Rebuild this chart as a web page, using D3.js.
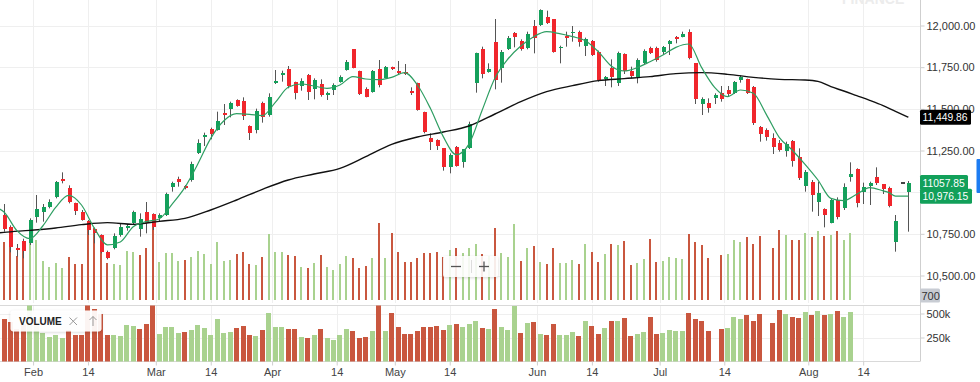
<!DOCTYPE html>
<html><head><meta charset="utf-8">
<script src="https://cdn.jsdelivr.net/npm/d3@7"></script>
<style>
body{margin:0;background:#fff;}
svg{display:block;font-family:"Liberation Sans",Arial,Helvetica,sans-serif;}
</style>
</head><body>
<svg id="c" width="980" height="382"></svg>
<script>
// ---------- DATA ----------
const open = [10863,10793,10663,10709,10693,10849,10881,10913,10969,11077,
11023,10933,10883,10827,10781,10743,10639,10663,10743,10783,
10817,10777,10881,10867,10843,10863,11029,11077,11039,11073,
11233,11329,11381,11373,11473,11499,11553,11547,11397,11373,
11533,11463,11657,11701,11737,11659,11637,11703,11617,11649,
11585,11613,11663,11733,11857,11729,11617,11603,11737,11687,
11749,11727,11721,11607,11653,11479,11323,11313,11263,11153,
11273,11183,11263,11653,11859,11723,11899,11743,11857,11957,
11907,11863,11999,12003,12049,12037,11863,11937,11953,11963,
11877,11909,11843,11679,11743,11653,11829,11727,11693,11773,
11863,11863,11839,11889,11929,11933,11963,11773,11529,11537,
11563,11597,11613,11597,11673,11677,11629,11393,11373,11323,
11293,11249,11309,11213,11037,11063,10943,10897,10817,10953,
10903,11089,11137,11003,11037,11093,11047,11023,10703,11059,11003];
const high = [10929,10801,10689,10721,10843,10983,10929,10957,11067,11119,
11041,10937,10893,10833,10787,10747,10649,10753,10809,10809,
10889,10873,10941,10873,10873,10997,11063,11093,11043,11183,
11317,11357,11387,11483,11529,11543,11557,11569,11401,11501,
11543,11593,11733,11729,11757,11663,11683,11709,11683,11677,
11603,11653,11701,11793,11859,11729,11629,11733,11793,11757,
11753,11787,11769,11629,11657,11483,11353,11317,11263,11233,
11277,11259,11423,11837,11873,11773,12039,11853,11937,11961,
11917,11963,12033,12097,12089,12039,11879,11963,11997,11969,
11927,11913,11849,11697,11797,11843,11833,11753,11803,11857,
11873,11873,11877,11913,11937,11963,11977,11773,11569,11563,
11593,11637,11637,11667,11701,11681,11637,11397,11383,11353,
11313,11303,11313,11263,11133,11073,11063,10903,10963,10969,
11053,11179,11143,11057,11063,11149,11049,11033,10863,11059,11067];
const low = [10763,10639,10613,10603,10683,10817,10823,10903,10963,11053,
10933,10863,10829,10743,10693,10633,10597,10657,10733,10769,
10809,10733,10753,10773,10823,10857,11003,11033,11017,11063,
11229,11277,11317,11369,11403,11449,11513,11433,11313,11353,
11417,11453,11649,11663,11623,11557,11609,11553,11557,11573,
11553,11583,11657,11729,11743,11583,11569,11597,11629,11683,
11733,11709,11703,11583,11489,11353,11253,11253,11129,11113,
11153,11147,11259,11597,11683,11717,11617,11657,11853,11869,
11849,11857,11833,11997,12009,11837,11773,11873,11903,11873,
11817,11817,11663,11637,11629,11637,11709,11683,11653,11763,
11829,11783,11823,11823,11893,11929,11797,11529,11463,11477,
11529,11543,11573,11589,11657,11589,11403,11303,11309,11229,
11243,11213,11153,11073,11003,10883,10857,10789,10813,10837,
10893,11063,10909,10929,10923,11043,10989,10909,10643,11059,10763];
const close = [10777,10673,10653,10649,10833,10897,10913,10941,11063,11065,
10943,10889,10833,10773,10753,10643,10603,10737,10789,10797,
10883,10839,10817,10793,10863,10989,11057,11061,11023,11169,
11297,11345,11349,11425,11463,11533,11519,11457,11357,11489,
11453,11573,11667,11713,11637,11597,11669,11603,11673,11583,
11597,11643,11693,11783,11743,11589,11573,11727,11643,11753,
11737,11717,11709,11593,11493,11359,11303,11279,11153,11223,
11157,11257,11409,11833,11709,11737,11673,11843,11927,11929,
11857,11947,11923,12093,12017,11843,11873,11923,11963,11903,
11917,11823,11673,11693,11689,11833,11727,11697,11793,11849,
11837,11793,11869,11909,11917,11947,11803,11559,11557,11503,
11583,11557,11587,11663,11689,11597,11413,11349,11333,11273,
11253,11287,11189,11083,11123,10983,10997,10863,10953,10853,
11033,11109,10933,11029,11053,11053,11017,10917,10829,11059,11057.85];
// volume in thousands (null = no bar)
const volume = [445,407,335,394,612,458,299,253,279,245,
330,271,271,599,548,497,279,271,265,376,
368,343,394,656,286,356,356,299,304,330,
376,353,271,440,299,304,348,368,273,265,
330,502,363,363,343,335,253,240,279,343,
250,227,271,335,322,245,258,317,587,317,
510,363,286,286,322,356,356,368,330,381,
394,360,394,427,353,335,548,356,330,579,
299,399,415,291,271,394,279,279,304,270,
427,368,286,348,426,422,448,262,282,309,
463,288,300,330,322,313,508,441,421,317,
null,340,350,460,443,480,425,492,null,396,
532,498,460,456,514,480,525,486,496,525,
460,514];
// moving averages: [candle index, value]
const maFast = [[-1,10905],[0,10881],[2,10769],[4,10721],[6,10797],[8,10909],[10,10981],[12,10923],[14,10783],[16,10684],[18,10701],[20,10793],[22,10823],[24,10839],[26,10927],[28,11029],[30,11169],[32,11323],[34,11427],[36,11471],[38,11467],[40,11459],[42,11539],[44,11629],[46,11649],[48,11637],[50,11623],[52,11643],[54,11693],[56,11679],[58,11675],[60,11689],[62,11717],[64,11643],[66,11503],[68,11333],[70,11225],[72,11290],[74,11490],[76,11685],[78,11799],[80,11877],[82,11933],[84,11963],[86,11951],[88,11933],[90,11909],[92,11843],[94,11757],[96,11727],[98,11747],[100,11783],[102,11823],[104,11869],[106,11889],[108,11747],[110,11629],[112,11573],[114,11613],[116,11593],[118,11467],[120,11329],[122,11253],[124,11167],[126,11073],[128,10963],[130,10949],[132,10987],[134,11027],[136,11009],[137,10997],[138,10976],[140,10976.15]];
const maSlow = [[-1,10755],[0,10759],[4,10771],[8,10785],[12,10805],[16,10817],[20,10807],[24,10825],[28,10843],[32,10893],[36,10953],[40,11017],[44,11073],[48,11109],[52,11143],[56,11213],[60,11287],[64,11331],[68,11361],[72,11397],[76,11469],[80,11543],[84,11603],[88,11639],[92,11669],[96,11681],[100,11693],[104,11711],[108,11717],[112,11707],[116,11689],[120,11677],[124,11673],[126,11665],[128,11633],[130,11607],[132,11579],[134,11551],[136,11521],[138,11485],[140,11449.86]];
const priceTicks = [10500,10750,11000,11250,11500,11750,12000];
const hiddenPriceLabels = [11000]; // covered by the value tags in the reference
const volTicks = [250,500];
const tickIdx = [4.5,13,23.5,32,41.5,51.5,60.5,69,82.5,91,101.5,111.5,124.5,133];
const tickLabels = ["Feb","14","Mar","14","Apr","14","May","14","Jun","14","Jul","14","Aug","14"];

// ---------- CHART ----------
const svg = d3.select('#c');
const AX = 920;
const C = {up:'#14a05b', dn:'#f0262c', vUp:'#a9d28f', vDn:'#c9573f', wick:'#555', grid:'#efefef', axis:'#cfcfcf', text:'#333'};
const x = d3.scaleLinear().domain([0,140]).range([4,908.4]);
const y = d3.scaleLinear().domain([10500,12000]).range([275.5,25.5]);
const vTop = d3.scaleLinear().domain([0,1000]).range([299.5,169.6]);
const vBot = d3.scaleLinear().domain([0,500]).range([361.5,313.5]);

const defs = svg.append('defs');
defs.append('clipPath').attr('id','cm').append('rect').attr('x',0).attr('y',0).attr('width',AX).attr('height',303);
defs.append('clipPath').attr('id','cl').append('rect').attr('x',0).attr('y',305.5).attr('width',AX).attr('height',56);
const f = defs.append('filter').attr('id','sh').attr('x','-20%').attr('y','-30%').attr('width','140%').attr('height','160%');
f.append('feDropShadow').attr('dx',0).attr('dy',1).attr('stdDeviation',1.5).attr('flood-color','#000').attr('flood-opacity',0.18);

// watermark (cut off by the top edge, as in the reference)
svg.append('text').attr('x',842).attr('y',4).attr('font-size',14).attr('font-weight','bold')
  .attr('fill','#ececec').text('FINANCE');

// grid
const g = svg.append('g');
g.selectAll('.hg').data(priceTicks).join('line')
  .attr('x1',0).attr('x2',AX).attr('y1',d=>Math.round(y(d))+0.5).attr('y2',d=>Math.round(y(d))+0.5)
  .attr('stroke',C.grid);
g.selectAll('.vg').data(tickIdx).join('line')
  .attr('x1',d=>Math.round(x(d))+0.5).attr('x2',d=>Math.round(x(d))+0.5).attr('y1',0).attr('y2',303)
  .attr('stroke',C.grid);
g.selectAll('.vg2').data(tickIdx).join('line')
  .attr('x1',d=>Math.round(x(d))+0.5).attr('x2',d=>Math.round(x(d))+0.5).attr('y1',305.5).attr('y2',361.5)
  .attr('stroke',C.grid);
g.selectAll('.hg2').data(volTicks).join('line')
  .attr('x1',0).attr('x2',AX).attr('y1',d=>Math.round(vBot(d))+0.5).attr('y2',d=>Math.round(vBot(d))+0.5)
  .attr('stroke',C.grid);

const vols = volume.map((v,i)=>({i,v,up: i===0 ? close[0]>=open[0] : close[i]>=close[i-1]})).filter(d=>d.v!=null);

// upper volume overlay
const main = svg.append('g').attr('clip-path','url(#cm)');
main.selectAll('.vu').data(vols).join('rect')
  .attr('x',d=>x(d.i)-1).attr('width',2)
  .attr('y',d=>vTop(d.v)).attr('height',d=>vTop(0)-vTop(d.v))
  .attr('fill',d=>d.up?C.vUp:C.vDn).attr('shape-rendering','crispEdges');

// candles
const cd = close.map((c,i)=>({i,o:open[i],h:Math.max(high[i],open[i],c),l:Math.min(low[i],open[i],c),c}));
main.selectAll('.wk').data(cd).join('line')
  .attr('x1',d=>Math.round(x(d.i))+0.5).attr('x2',d=>Math.round(x(d.i))+0.5)
  .attr('y1',d=>y(d.h)).attr('y2',d=>y(d.l)).attr('stroke',C.wick).attr('stroke-width',1);
main.selectAll('.bd').data(cd).join('rect')
  .attr('x',d=>Math.round(x(d.i))-1.5).attr('width',4)
  .attr('y',d=>y(Math.max(d.o,d.c))).attr('height',d=>Math.max(1.2,Math.abs(y(d.o)-y(d.c))))
  .attr('fill',d=>d.c>d.o?C.up:(d.c<d.o?C.dn:'#444')).attr('shape-rendering','crispEdges');

// moving averages
const ln = d3.line().x(d=>x(d[0])).y(d=>y(d[1])).curve(d3.curveMonotoneX);
main.append('path').datum(maSlow).attr('d',ln).attr('fill','none').attr('stroke','#111').attr('stroke-width',1.4);
main.append('path').datum(maFast).attr('d',ln).attr('fill','none').attr('stroke','#2e9e62').attr('stroke-width',1.2);

// axis lines and separators
svg.append('line').attr('x1',AX+0.5).attr('x2',AX+0.5).attr('y1',0).attr('y2',361.5).attr('stroke',C.axis);
svg.append('line').attr('x1',0).attr('x2',AX).attr('y1',305.5).attr('y2',305.5).attr('stroke','#d9d9d9');
svg.append('line').attr('x1',0).attr('x2',AX).attr('y1',361.5).attr('y2',361.5).attr('stroke','#d9d9d9');

// price axis
const ya = svg.append('g').attr('transform',`translate(${AX+0.5},0)`)
  .call(d3.axisRight(y).tickValues(priceTicks)
    .tickFormat(d=>hiddenPriceLabels.includes(d)?'':d3.format(',.2f')(d)).tickSize(4).tickPadding(2));
ya.select('.domain').remove();
ya.selectAll('line').attr('stroke',C.axis);
ya.selectAll('text').attr('font-size',11).attr('fill',C.text).attr('font-family','"Liberation Sans",Arial,sans-serif');

// volume axis
const va = svg.append('g').attr('transform',`translate(${AX+0.5},0)`)
  .call(d3.axisRight(vBot).tickValues(volTicks).tickFormat(d=>d+'k').tickSize(4).tickPadding(2));
va.select('.domain').remove();
va.selectAll('line').attr('stroke',C.axis);
va.selectAll('text').attr('font-size',11).attr('fill',C.text).attr('font-family','"Liberation Sans",Arial,sans-serif');

// lower volume panel
const lower = svg.append('g').attr('clip-path','url(#cl)');
lower.selectAll('.vb').data(vols).join('rect')
  .attr('x',d=>x(d.i)-2.5).attr('width',5)
  .attr('y',d=>vBot(d.v)).attr('height',d=>vBot(0)-vBot(d.v))
  .attr('fill',d=>d.up?C.vUp:C.vDn).attr('shape-rendering','crispEdges');

// x axis
const xa = svg.append('g').attr('transform','translate(0,361.5)')
  .call(d3.axisBottom(x).tickValues(tickIdx).tickFormat((d,i)=>tickLabels[i]).tickSize(4).tickPadding(3));
xa.select('.domain').remove();
xa.selectAll('line').attr('stroke',C.axis);
xa.selectAll('text').attr('font-size',11).attr('fill','#444').attr('font-family','"Liberation Sans",Arial,sans-serif');

// value labels
function tag(val, fmt, bg, w){
  const cy = y(val);
  const gg = svg.append('g');
  gg.append('rect').attr('x',AX).attr('y',cy-7.5).attr('width',w).attr('height',15).attr('rx',1.5).attr('fill',bg);
  gg.append('text').attr('x',AX+2.5).attr('y',cy+4).attr('font-size',10.3).attr('fill','#fff').text(fmt(val));
}
const lastSlow = maSlow[maSlow.length-1][1];
const lastFast = maFast[maFast.length-1][1];
tag(lastSlow, d3.format(',.2f'), '#000', 51);
tag(close[close.length-1], d3.format('.2f'), '#12a05a', 48);
tag(lastFast, d3.format(',.2f'), '#12a05a', 52);

// volume level tag in main panel
svg.append('rect').attr('x',AX).attr('y',288.5).attr('width',20).attr('height',14).attr('rx',1.5).attr('fill','#c8ccd3');
svg.append('text').attr('x',AX+1.5).attr('y',299.5).attr('font-size',11).attr('fill','#333').text('700');

// right edge blue marker
svg.append('rect').attr('x',976.5).attr('y',159).attr('width',4).attr('height',34).attr('rx',1).attr('fill','#1d7cf2');

// zoom control
const zc = svg.append('g');
zc.append('rect').attr('x',443).attr('y',256).attr('width',55).attr('height',21).attr('rx',2)
  .attr('fill','#fff').attr('fill-opacity',0.88).attr('filter','url(#sh)');
zc.append('line').attr('x1',451).attr('x2',461).attr('y1',266.5).attr('y2',266.5).attr('stroke','#555').attr('stroke-width',1.3);
zc.append('line').attr('x1',471.5).attr('x2',471.5).attr('y1',260).attr('y2',273).attr('stroke','#ddd');
zc.append('line').attr('x1',479).attr('x2',489).attr('y1',266.5).attr('y2',266.5).attr('stroke','#555').attr('stroke-width',1.3);
zc.append('line').attr('x1',484).attr('x2',484).attr('y1',261.5).attr('y2',271.5).attr('stroke','#555').attr('stroke-width',1.3);

// VOLUME legend box
const lg = svg.append('g');
lg.append('rect').attr('x',10.5).attr('y',310.5).attr('width',91).attr('height',21).attr('rx',3)
  .attr('fill','#fff').attr('fill-opacity',0.93).attr('filter','url(#sh)');
lg.append('text').attr('x',19).attr('y',325).attr('font-size',10).attr('font-weight',600).attr('fill','#222').text('VOLUME');
lg.append('path').attr('d','M69.5,317.5 L77,325 M77,317.5 L69.5,325').attr('stroke','#999').attr('stroke-width',1).attr('fill','none');
lg.append('path').attr('d','M93,316.5 V326 M89.5,320 L93,316.5 L96.5,320').attr('stroke','#999').attr('stroke-width',1).attr('fill','none');
</script>
</body></html>
